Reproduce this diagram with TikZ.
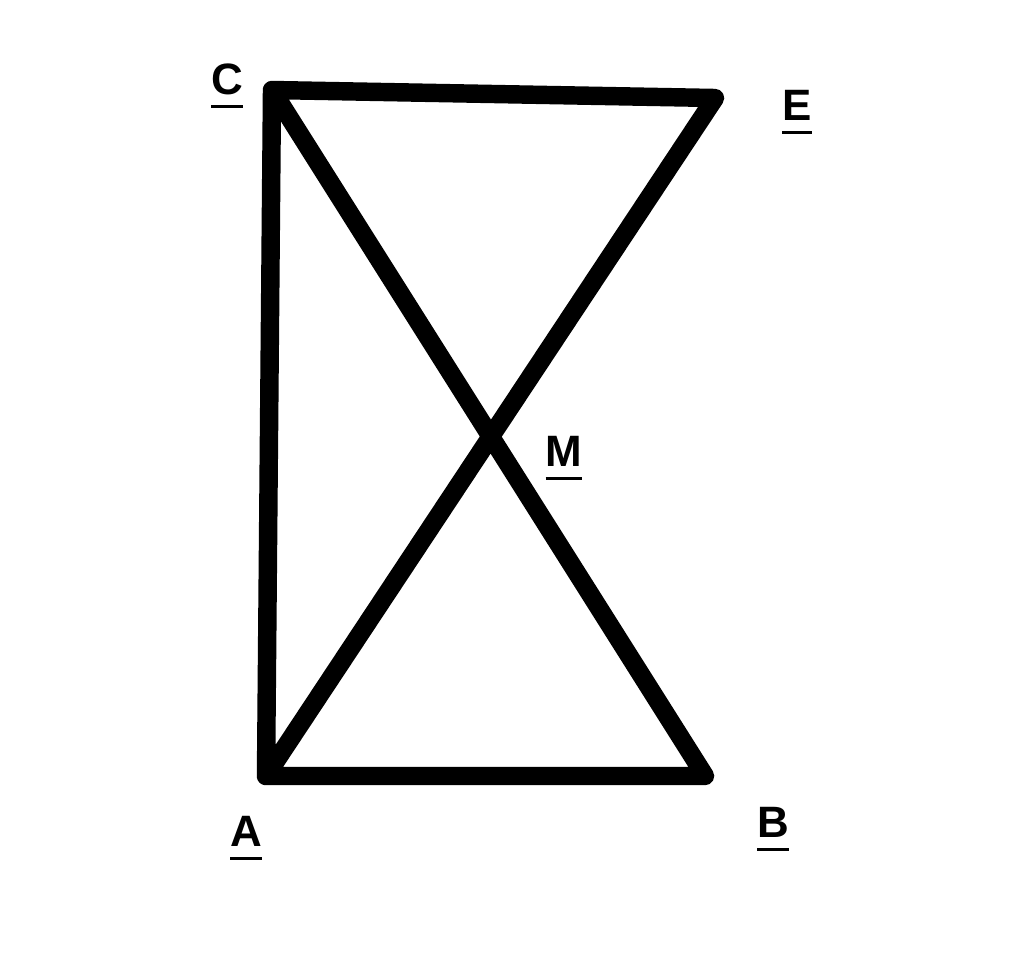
\documentclass[tikz,border=0pt]{standalone}
\usepackage{fontspec}
\setmainfont{Liberation Sans}
\newcommand{\vname}[1]{\vtop{\hbox{#1}\kern6pt\hrule height 1.6pt}}
\begin{document}
\begin{tikzpicture}[x=0.02cm,y=-0.02cm,
   side/.style={line width=10.5pt,line cap=round,line join=round},
   vlabel/.style={font=\bfseries\fontsize{25}{30}\selectfont,inner sep=0pt}]
   \useasboundingbox (0,0) rectangle (1024,965);
   \coordinate (C) at (272,90);
   \coordinate (E) at (715,98);
   \coordinate (A) at (266,776);
   \coordinate (B) at (705,776);
   \coordinate (M) at (490,438);
   \draw[side] (A) -- (C) -- (E) -- (A) -- (B) -- (C);
   \node[vlabel] (lC) at (227,86) {\vname{C}};
   \node[vlabel] (lE) at (797,112) {\vname{E}};
   \node[vlabel] (lM) at (564,458) {\vname{M}};
   \node[vlabel] (lA) at (246,838) {\vname{A}};
   \node[vlabel] (lB) at (773,829) {\vname{B}};
\end{tikzpicture}
\end{document}
